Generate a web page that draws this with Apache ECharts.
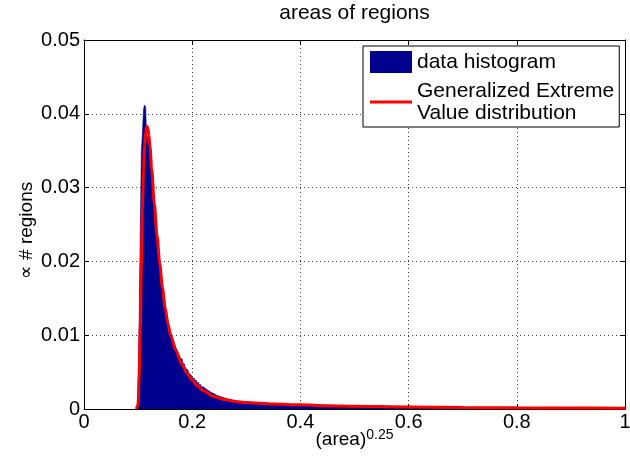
<!DOCTYPE html>
<html>
<head>
<meta charset="utf-8">
<script src="https://cdn.jsdelivr.net/npm/echarts@6/dist/echarts.min.js"></script>
<style>
  html, body { margin: 0; padding: 0; background: #fff; }
  #chart { width: 630px; height: 471px; }
</style>
</head>
<body>
<div id="chart"></div>
<script>
// Histogram of (area)^0.25: left bin edges (last entry is the closing right edge)
const binEdges = [
  0.098, 0.100, 0.102, 0.104, 0.106, 0.108, 0.110, 0.112, 0.114, 0.116,
  0.118, 0.120, 0.122, 0.124, 0.126, 0.128, 0.130, 0.132, 0.134, 0.136,
  0.138, 0.140, 0.142, 0.144, 0.146, 0.148, 0.150, 0.152, 0.154, 0.156,
  0.158, 0.160, 0.162, 0.164, 0.166, 0.168, 0.170, 0.172, 0.174, 0.176,
  0.178, 0.180, 0.182, 0.184, 0.186, 0.188, 0.190, 0.192, 0.194, 0.196,
  0.198,
  0.200, 0.204, 0.208, 0.212, 0.216, 0.220, 0.224, 0.228, 0.232, 0.236,
  0.240, 0.244, 0.248, 0.252, 0.256, 0.260, 0.264, 0.268, 0.272, 0.276,
  0.280, 0.284, 0.288, 0.292, 0.296,
  0.30, 0.32, 0.34, 0.36, 0.38,
  0.40, 0.45, 0.50, 0.55, 0.60, 0.65, 0.70, 0.75, 0.80, 0.85, 0.90, 0.95,
  1.00
];
// Normalised bin heights (one per bin)
const binHeights = [
  0.0, 0.003, 0.012, 0.024, 0.0349, 0.0374, 0.0406, 0.0412, 0.0409, 0.0358,
  0.0370, 0.0362, 0.0348, 0.0330, 0.0312, 0.0294, 0.0277, 0.0261, 0.0244, 0.0229,
  0.0214, 0.0201, 0.0188, 0.0175, 0.0164, 0.0152, 0.0143, 0.0134, 0.0125, 0.0117,
  0.0110, 0.0105, 0.0100, 0.0095, 0.0091, 0.0087, 0.0083, 0.0080, 0.0076, 0.0073,
  0.0069, 0.0067, 0.0063, 0.0061, 0.0058, 0.0055, 0.0053, 0.0051, 0.0048, 0.0046,
  0.0045,
  0.0042, 0.0039, 0.0036, 0.0033, 0.0030, 0.0028, 0.0026, 0.0024, 0.0022, 0.0021,
  0.0019, 0.0018, 0.0017, 0.0016, 0.0015, 0.0014, 0.0013, 0.00125, 0.0012, 0.0011,
  0.00105, 0.0010, 0.00095, 0.0009, 0.00085,
  0.00075, 0.00064, 0.00056, 0.00049, 0.00043,
  0.00036, 0.0003, 0.00025, 0.00021, 0.00018, 0.00016, 0.00014, 0.00012, 0.0001, 0.00009, 0.00008, 0.00007
];

// Fitted Generalized Extreme Value density
const gevX = [
  0.097, 0.100, 0.102, 0.104, 0.106, 0.108, 0.110, 0.112, 0.114, 0.116,
  0.118, 0.120, 0.122, 0.125, 0.130, 0.135, 0.140, 0.145, 0.150, 0.155,
  0.160, 0.170, 0.180, 0.190, 0.200, 0.210, 0.220, 0.240, 0.260, 0.280,
  0.300, 0.350, 0.400, 0.450, 0.500, 0.600, 0.700, 0.800, 0.900, 1.000
];
const gevY = [
  0, 0.0006, 0.0045, 0.0110, 0.0195, 0.0272, 0.0325, 0.0358, 0.0376, 0.0383,
  0.0381, 0.0371, 0.0356, 0.0326, 0.0278, 0.0235, 0.0197, 0.0164, 0.0137, 0.0116,
  0.0100, 0.0079, 0.0062, 0.0049, 0.0039, 0.0031, 0.0025, 0.0017, 0.00128, 0.00102,
  0.00088, 0.00068, 0.00056, 0.00045, 0.00038, 0.00028, 0.00021, 0.00016, 0.00013, 0.00010
];

const xTickLabels = ['0', '0.2', '0.4', '0.6', '0.8', '1'];
const yTickLabels = ['0', '0.01', '0.02', '0.03', '0.04', '0.05'];

const histName = 'data histogram';
const gevName = 'Generalized Extreme\nValue distribution';

const FONT = "'Liberation Sans', Arial, Helvetica, sans-serif";

// Step outline of the histogram: each bin holds its height up to the next edge
const histData = binEdges.map((e, i) => [e, i < binHeights.length ? binHeights[i] : 0]);
const gevData = gevX.map((x, i) => [x, gevY[i]]);

const chart = echarts.init(document.getElementById('chart'), null, { renderer: 'canvas' });

const gridLine = { show: true, lineStyle: { color: '#3a3a3a', width: 1, type: [1, 3] } };
const boxLine = { show: true, onZero: false, lineStyle: { color: '#000', width: 1 } };
const inTick = { show: true, inside: true, length: 5, lineStyle: { color: '#000', width: 1 } };

chart.setOption({
  animation: false,
  backgroundColor: '#fff',
  textStyle: { fontFamily: FONT },
  title: {
    text: 'areas of regions',
    left: 354.5,
    top: 3,
    padding: 0,
    textAlign: 'center',
    textStyle: { fontFamily: FONT, fontSize: 21, fontWeight: 'normal', color: '#000' }
  },
  grid: {
    left: 84, right: 5, top: 40, bottom: 62,
    outerBoundsMode: 'none',
    containLabel: false
  },
  legend: {
    orient: 'vertical',
    left: 363,
    top: 46,
    padding: [5, 5, 3, 7],
    itemGap: 7,
    itemWidth: 42,
    itemHeight: 22,
    borderColor: '#000',
    borderWidth: 1,
    backgroundColor: '#fff',
    selectedMode: false,
    textStyle: { fontFamily: FONT, fontSize: 21, color: '#000', lineHeight: 22 },
    data: [
      { name: histName, icon: 'rect' },
      // plain line swatch (14:1 bar scaled to the item width)
      { name: gevName, icon: 'path://M0,0H14V1H0Z' }
    ]
  },
  xAxis: [
    {
      type: 'value',
      position: 'bottom',
      min: 0, max: 1, interval: 0.2,
      axisLine: boxLine,
      axisTick: inTick,
      splitLine: gridLine,
      axisLabel: {
        color: '#000', fontFamily: FONT, fontSize: 20, margin: 3,
        formatter: v => xTickLabels[Math.round(v / 0.2)]
      },
      name: '(area){sup|0.25}',
      nameLocation: 'middle',
      nameGap: 19,
      nameMoveOverlap: false,
      nameTextStyle: {
        color: '#000', fontFamily: FONT, fontSize: 19,
        rich: { sup: { fontFamily: FONT, fontSize: 14, color: '#000', verticalAlign: 'top', padding: [0, 0, 10, 0] } }
      }
    },
    {
      type: 'value',
      position: 'top',
      min: 0, max: 1, interval: 0.2,
      axisLine: boxLine,
      axisTick: inTick,
      axisLabel: { show: false },
      splitLine: { show: false }
    }
  ],
  yAxis: [
    {
      type: 'value',
      position: 'left',
      min: 0, max: 0.05, interval: 0.01,
      axisLine: boxLine,
      axisTick: inTick,
      splitLine: gridLine,
      axisLabel: {
        color: '#000', fontFamily: FONT, fontSize: 20, margin: 4,
        formatter: v => yTickLabels[Math.round(v / 0.01)]
      },
      name: '\u221D # regions',
      nameLocation: 'middle',
      nameRotate: 90,
      nameGap: 48,
      nameMoveOverlap: false,
      nameTextStyle: { color: '#000', fontFamily: FONT, fontSize: 19, padding: [0, 12, 0, 0] }
    },
    {
      type: 'value',
      position: 'right',
      min: 0, max: 0.05, interval: 0.01,
      axisLine: boxLine,
      axisTick: inTick,
      axisLabel: { show: false },
      splitLine: { show: false }
    }
  ],
  series: [
    {
      name: histName,
      type: 'line',
      xAxisIndex: 0, yAxisIndex: 0,
      step: 'end',
      symbol: 'none',
      color: '#00008F',
      lineStyle: { color: '#00008F', width: 0.6 },
      areaStyle: { color: '#00008F', opacity: 1, origin: 'start' },
      data: histData,
      z: 2
    },
    {
      name: gevName,
      type: 'line',
      xAxisIndex: 0, yAxisIndex: 0,
      symbol: 'none',
      smooth: 0.3,
      smoothMonotone: 'x',
      color: '#FF0000',
      lineStyle: { color: '#FF0000', width: 3 },
      data: gevData,
      z: 3
    }
  ]
});
</script>
</body>
</html>
